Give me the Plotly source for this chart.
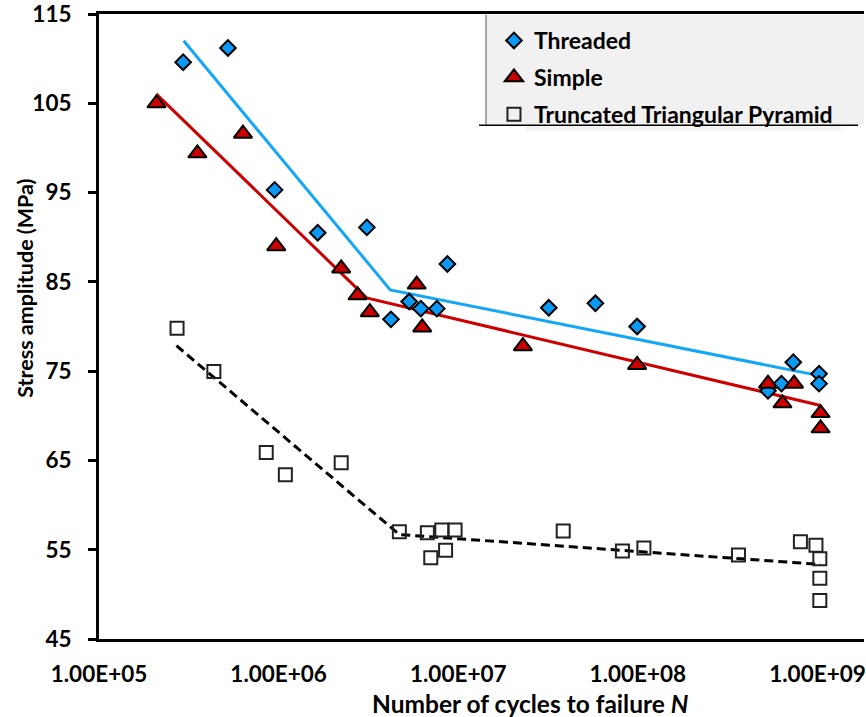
import plotly.graph_objects as go

# ---- data ----
threaded_N = [2.94e5, 5.22e5, 9.5e5, 1.65e6, 3.1e6, 4.22e6, 5.33e6, 6.19e6, 7.6e6, 8.7e6,
              3.19e7, 5.8e7, 9.9e7, 5.3e8, 6.3e8, 7.33e8, 1.02e9, 1.02e9]
threaded_S = [109.6, 111.2, 95.3, 90.5, 91.1, 80.8, 82.8, 82.0, 82.0, 87.0,
              82.1, 82.6, 80.0, 72.8, 73.6, 76.0, 74.7, 73.6]

simple_N = [2.09e5, 3.53e5, 6.33e5, 9.7e5, 2.23e6, 2.75e6, 3.22e6, 5.87e6, 6.3e6, 2.29e7,
            9.9e7, 5.3e8, 6.38e8, 7.4e8, 1.04e9, 1.04e9]
simple_S = [105.0, 99.4, 101.6, 89.0, 86.5, 83.5, 81.6, 84.7, 79.9, 77.8,
            75.7, 73.6, 71.4, 73.6, 70.3, 68.6]

pyramid_N = [2.72e5, 4.36e5, 8.53e5, 1.09e6, 2.23e6, 4.7e6, 6.73e6, 7.03e6, 8.1e6, 8.5e6,
             9.6e6, 3.84e7, 8.2e7, 1.08e8, 3.63e8, 8.03e8, 9.8e8, 1.03e9, 1.03e9, 1.03e9]
pyramid_S = [79.8, 74.95, 65.9, 63.4, 64.75, 57.0, 56.9, 54.1, 57.2, 54.95,
             57.2, 57.1, 54.87, 55.2, 54.4, 55.9, 55.5, 54.0, 51.8, 49.3]

# fitted (bilinear) trend lines
threaded_fit_N = [2.96e5, 4.18e6, 1.02e9]
threaded_fit_S = [112.0, 84.1, 74.5]
simple_fit_N = [2.08e5, 3.09e6, 1.04e9]
simple_fit_S = [106.06, 83.2, 71.15]
pyramid_fit_N = [2.7e5, 4.7e6, 1.04e9]
pyramid_fit_S = [77.85, 56.7, 53.35]

x_tickvals = [1e5, 1e6, 1e7, 1e8, 1e9]
x_ticktext = ["1.00E+05", "1.00E+06", "1.00E+07", "1.00E+08", "1.00E+09"]
y_tickvals = [45, 55, 65, 75, 85, 95, 105, 115]

FONT = "Lato, 'Open Sans', sans-serif"
BLUE_FILL = "#0A9AF5"
BLUE_LINE = "#14A6F7"
RED = "#CC0000"

fig = go.Figure()

# trend lines
fig.add_trace(go.Scatter(x=threaded_fit_N, y=threaded_fit_S, mode="lines",
                         line=dict(color=BLUE_LINE, width=3), showlegend=False, hoverinfo="skip"))
fig.add_trace(go.Scatter(x=simple_fit_N, y=simple_fit_S, mode="lines",
                         line=dict(color=RED, width=3), showlegend=False, hoverinfo="skip"))
fig.add_trace(go.Scatter(x=pyramid_fit_N, y=pyramid_fit_S, mode="lines",
                         line=dict(color="black", width=3, dash="9px,5px"),
                         showlegend=False, hoverinfo="skip"))

# markers
fig.add_trace(go.Scatter(x=threaded_N, y=threaded_S, mode="markers", name="<b>Threaded</b>",
                         legendgroup="a",
                         marker=dict(symbol="diamond", size=12, color=BLUE_FILL,
                                     line=dict(color="black", width=2))))
fig.add_trace(go.Scatter(x=simple_N, y=simple_S, mode="markers", name="<b>Simple</b>",
                         legendgroup="b",
                         marker=dict(symbol="triangle-up", size=16, color=RED,
                                     line=dict(color="black", width=2))))
fig.add_trace(go.Scatter(x=pyramid_N, y=pyramid_S, mode="markers",
                         name="<b>Truncated Triangular Pyramid</b>", legendgroup="c",
                         marker=dict(symbol="square-open", size=13, color="#222222",
                                     line=dict(width=2))))

PL, PR, PT, PB = 99, 0, 13, 78
W, H = 866, 717
pw = W - PL - PR
ph = H - PT - PB

def px_x(x):
    return (x - PL) / pw

def px_y(y):
    return (H - PB - y) / ph

shapes = [
    # legend box
    dict(type="rect", xref="paper", yref="paper", x0=px_x(487), x1=px_x(866),
         y0=px_y(124), y1=px_y(14), fillcolor="#f1f1f1",
         line=dict(width=0), layer="below"),
    dict(type="line", xref="paper", yref="paper", x0=px_x(487), x1=px_x(487),
         y0=px_y(124), y1=px_y(14), line=dict(color="#8a8a8a", width=1.5), layer="above"),
    dict(type="line", xref="paper", yref="paper", x0=px_x(480), x1=px_x(860),
         y0=px_y(124.5), y1=px_y(124.5), line=dict(color="black", width=1.5), layer="above"),
    dict(type="rect", xref="paper", yref="paper", x0=px_x(527), x1=px_x(843),
         y0=px_y(130), y1=px_y(125.5), fillcolor="#f3f3f3", line=dict(width=0), layer="above"),
]

fig.update_layout(
    width=W, height=H,
    margin=dict(l=PL, r=PR, t=PT, b=PB, pad=0),
    paper_bgcolor="white", plot_bgcolor="white",
    font=dict(family=FONT, color="black", size=19),
    showlegend=True,
    legend=dict(x=px_x(495), y=px_y(18), xanchor="left", yanchor="top",
                bgcolor="rgba(0,0,0,0)", borderwidth=0,
                font=dict(family=FONT, size=23, color="black"),
                tracegroupgap=4, traceorder="grouped"),
    shapes=shapes,
    xaxis=dict(type="log", range=[5, 5 + (W - PL - PR) / 180.1],
               tickvals=x_tickvals, ticktext=x_ticktext,
               tickfont=dict(family=FONT, size=22.5, color="black", weight="bold"),
               showgrid=False, zeroline=False,
               showline=True, linecolor="black", linewidth=3, mirror=True,
               ticks="", ticklabelstandoff=13, ticklabeloverflow="allow"),
    yaxis=dict(range=[45, 115], tickvals=y_tickvals,
               tickfont=dict(family=FONT, size=22.5, color="black", weight="bold"),
               showgrid=False, zeroline=False,
               showline=True, linecolor="black", linewidth=3,
               ticks="outside", ticklen=8, tickwidth=3, tickcolor="black",
               ticklabelstandoff=12, ticklabeloverflow="allow"),
    annotations=[
        dict(text="<b>Stress amplitude (MPa)</b>", textangle=-90,
             xref="paper", yref="paper", x=px_x(24), y=px_y(288),
             xanchor="center", yanchor="middle", showarrow=False,
             font=dict(family=FONT, size=21.5, color="black")),
        dict(text="<b>Number of cycles to failure <i>N</i></b>",
             xref="paper", yref="paper", x=px_x(531), y=px_y(704),
             xanchor="center", yanchor="middle", showarrow=False,
             font=dict(family=FONT, size=24.5, color="black")),
    ],
)

fig.write_html("out.html")
